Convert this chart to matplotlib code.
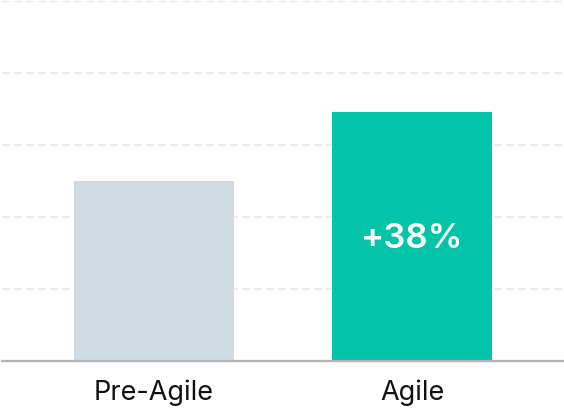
import matplotlib.pyplot as plt

# data
categories = ['Pre-Agile', 'Agile']
values = [50, 69]
bar_colors = ['#cfdbe3', '#03c3a8']
change_label = '+38%'

plt.rcParams['font.family'] = ['Inter', 'DejaVu Sans']

fig = plt.figure(figsize=(5.64, 4.12), dpi=100)
ax = fig.add_axes([2 / 564, 1 - 360.5 / 412, 562 / 564, 359.5 / 412])

x = range(len(categories))
ax.bar(x, values, width=0.62, color=bar_colors, zorder=2)

ax.set_ylim(0, 100)
ax.set_xlim(-0.589, 1.589)
ax.set_yticks([20, 40, 60, 80, 100])
# dashes ~8px on, 4px off
ax.yaxis.grid(True, color='#ebebeb', linestyle=(0, (3.6, 1.8)), linewidth=1.6, zorder=0)
ax.tick_params(axis='y', left=False, labelleft=False)
ax.set_xticks(list(x))
ax.set_xticklabels(categories, fontsize=19.5, color='#111111')
ax.tick_params(axis='x', length=0, pad=14)

for side in ['top', 'right', 'left']:
    ax.spines[side].set_visible(False)
ax.spines['bottom'].set_color('#b3b3b3')
ax.spines['bottom'].set_linewidth(1.6)
ax.spines['bottom'].set_zorder(3)

# label inside the Agile bar
ax.text(1, 33.8, change_label, ha='center', va='center',
        color='white', fontsize=25, fontweight='semibold', zorder=4)

fig.savefig('out.png', dpi=100)
